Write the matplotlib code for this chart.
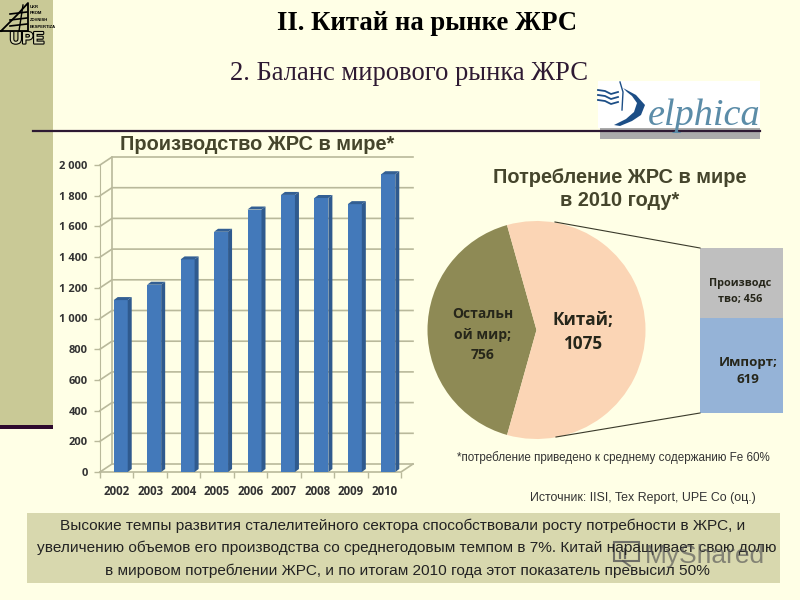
import matplotlib
matplotlib.use('Agg')
import matplotlib.pyplot as plt
import matplotlib.patheffects as pe
from matplotlib.patches import Rectangle, Polygon

# data
years = ['2002', '2003', '2004', '2005', '2006', '2007', '2008', '2009', '2010']
production = [1120, 1220, 1385, 1565, 1710, 1805, 1785, 1745, 1940]
y_ticks = [0, 200, 400, 600, 800, 1000, 1200, 1400, 1600, 1800, 2000]
y_tick_labels = ['0', '200', '400', '600', '800', '1 000', '1 200', '1 400', '1 600', '1 800', '2 000']
pie_values = [756, 1075]
split_values = [619, 456]

SANS = 'Liberation Sans'
SERIF = 'Liberation Serif'
LABEL = 'Open Sans'
BG = '#FFFFE6'

fig = plt.figure(figsize=(8, 6), dpi=100, facecolor=BG)


def px_axes(left, top, right, bottom):
    return fig.add_axes([left / 800, 1 - bottom / 600, (right - left) / 800, (bottom - top) / 600])


def layer():
    a = fig.add_axes([0, 0, 1, 1])
    a.set_xlim(0, 800)
    a.set_ylim(600, 0)
    a.axis('off')
    return a


# slide layer in pixel coordinates
bg = layer()
bg.add_patch(Rectangle((0, 0), 53, 425, color='#C9C996', lw=0))
bg.add_patch(Rectangle((0, 425), 53, 4, color='#2E0A2E', lw=0))
bg.add_patch(Rectangle((598, 81), 162, 47, color='white', lw=0))
bg.add_patch(Rectangle((600, 128), 160, 11, color='#ABABAB', lw=0))
bg.plot([33, 760], [131, 131], color='#2E1A33', lw=1.6)
bg.add_patch(Rectangle((27, 513), 753, 70, color='#D8D8AE', lw=0))

# UPE logo
bg.plot([1, 17, 28, 28, 1], [31, 15, 3, 31, 31], color='black', lw=1.3)
for yy in [14, 20, 26]:
    bg.plot([10, 27], [yy, yy - 2], color='black', lw=1.2)
bg.plot([19, 23], [31, 5], color='black', lw=1)
for yy, t in zip([7, 13, 20, 27], ['UKR', 'PROM', 'ZOVNISH', 'EKSPERTIZA']):
    bg.text(30, yy, t, fontsize=3, family=SANS, weight='bold', va='center')
bg.text(27, 39, 'UPE', fontsize=12, family=SANS, weight='bold', ha='center', va='center', color='#D8D8B0',
        path_effects=[pe.withStroke(linewidth=1.6, foreground='black')])

# Delphica logo
bg.add_patch(Polygon([[623, 88], [636, 95], [645, 105], [641, 115], [632, 121], [620, 126], [614, 125], [626, 119],
                      [634, 112], [637, 103], [632, 96], [627, 92]], color='#1C4E86', lw=0))
bg.plot([620, 623, 622], [82, 92, 110], color='#1C4E86', lw=1)
for yy in [92, 97, 102]:
    bg.plot([598, 605, 611, 618], [yy - 2, yy - 1, yy + 2, yy], color='#1C4E86', lw=1.3)
bg.text(648, 125, 'elphica', fontsize=27.5, family=SERIF, style='italic', color='#5B8CA8', va='baseline')

# titles
bg.text(427, 24, 'II. Китай на рынке ЖРС', fontsize=19.2, family=SERIF, weight='bold', ha='center', va='center')
bg.text(409, 74, '2. Баланс мирового рынка ЖРС', fontsize=19.2, family=SERIF, color='#2E1A33', ha='center', va='center')
bg.text(257, 144, 'Производство ЖРС в мире*', fontsize=14.4, family=SANS, weight='bold', color='#45452C',
        ha='center', va='center')
bg.text(620, 189, 'Потребление ЖРС в мире\nв 2010 году*', fontsize=14.4, family=SANS, weight='bold',
        color='#45452C', ha='center', va='center', linespacing=1.25)

# bar chart, front plane of the fake 3d box
ax = px_axes(100, 165, 401, 472)
n = len(years)
ax.set_xlim(-0.5, n - 0.5)
ax.set_ylim(0, 2000)
ax.patch.set_alpha(0)
for s in ['top', 'right', 'bottom']:
    ax.spines[s].set_visible(False)
GRID = '#B9B99B'
ax.spines['left'].set_color(GRID)
ux = n / 301  # data units per pixel
uy = 2000 / 307
depth_x, depth_y = 12 * ux, 8 * uy
for v in y_ticks:
    ax.plot([-0.5, -0.5 + depth_x, n - 0.5 + depth_x], [v, v + depth_y, v + depth_y],
            color=GRID, lw=1.2, clip_on=False, zorder=1)
ax.plot([-0.5 + depth_x] * 2, [depth_y, 2000 + depth_y], color=GRID, lw=1.2, clip_on=False, zorder=1)
ax.plot([-0.5, n - 0.5, n - 0.5 + depth_x], [0, 0, depth_y], color=GRID, lw=1.2, clip_on=False, zorder=1)

w = 14 * ux
shift = 4 * ux
sx, sy = 4 * ux, 3 * uy
xs = [i + shift for i in range(n)]
ax.bar(xs, production, width=w, color='#4379BA', zorder=3)
for x, v in zip(xs, production):
    r = x + w / 2
    l = x - w / 2
    ax.fill([r, r + sx, r + sx, r], [0, sy, v + sy, v], color='#2F5A8E', lw=0, zorder=3, clip_on=False)
    ax.fill([l, l + sx, r + sx, r], [v, v + sy, v + sy, v], color='#335F93', lw=0, zorder=3, clip_on=False)
ax.set_yticks(y_ticks, y_tick_labels, family=LABEL, weight='bold', fontsize=8, color='#333333')
ax.set_xticks([i - 0.5 for i in range(n + 1)])
ax.set_xticklabels([])
ax.tick_params(axis='both', color=GRID, length=4, width=1)
ax.tick_params(axis='y', pad=5)
for i, yr in enumerate(years):
    ax.text(i, -125, yr, family=LABEL, weight='bold', fontsize=8.3, color='#333333', ha='center', va='center')

# pie
pie_ax = px_axes(427, 221, 646, 439)
pie_ax.pie(pie_values, colors=['#8E8A55', '#FBD5B5'], startangle=105.7, radius=1, frame=False)
pie_ax.set_xlim(-1, 1)
pie_ax.set_ylim(-1, 1)

# split bar for China
split_ax = px_axes(700, 248, 783, 413)
split_ax.bar([0], [split_values[0]], width=1, color='#95B3D7')
split_ax.bar([0], [split_values[1]], width=1, bottom=split_values[0], color='#BFBFBF')
split_ax.set_xlim(-0.5, 0.5)
split_ax.set_ylim(0, sum(split_values))
split_ax.axis('off')

# everything that sits on top of the charts
fg = layer()
fg.plot([555, 700], [222, 248], color='#3A3A2A', lw=0.8)
fg.plot([556, 700], [437, 413], color='#3A3A2A', lw=0.8)

fg.text(483, 334.5, 'Остальн\nой мир;\n756', family=LABEL, weight='bold', fontsize=10, color='#26261A',
        ha='center', va='center', linespacing=1.55)
fg.text(583, 332, 'Китай;\n1075', family=LABEL, weight='bold', fontsize=12.3, color='#26261A',
        ha='center', va='center', linespacing=1.45)
fg.text(740, 291.5, 'Производс\nтво; 456', family=LABEL, weight='bold', fontsize=7.8, color='#26261A',
        ha='center', va='center', linespacing=1.6)
fg.text(748, 371, 'Импорт;\n619', family=LABEL, weight='bold', fontsize=9.6, color='#26261A',
        ha='center', va='center', linespacing=1.35)

# notes
fg.text(613, 458, '*потребление приведено к среднему содержанию Fe 60%', family=SANS, fontsize=8.4,
        color='#333333', ha='center', va='center')
fg.text(643, 498, 'Источник: IISI, Tex Report, UPE Co (оц.)', family=SANS, fontsize=8.9,
        color='#333333', ha='center', va='center')

# bottom text and watermark
fg.text(403, 526, 'Высокие темпы развития сталелитейного сектора способствовали росту потребности в ЖРС, и',
        family=SANS, fontsize=11.1, color='#222222', ha='center', va='center')
fg.text(407, 548, 'увеличению объемов его производства со среднегодовым темпом в 7%. Китай наращивает свою долю',
        family=SANS, fontsize=11.1, color='#222222', ha='center', va='center')
fg.text(407, 571, 'в мировом потреблении ЖРС, и по итогам 2010 года этот показатель превысил 50%',
        family=SANS, fontsize=11.1, color='#222222', ha='center', va='center')
fg.add_patch(Rectangle((614, 542), 25, 19, fill=False, ec='#555555', lw=1.5, alpha=0.8))
fg.plot([620, 620], [553, 558], color='#555555', lw=1.6, alpha=0.8)
fg.plot([625, 625], [549, 558], color='#555555', lw=1.6, alpha=0.8)
fg.plot([623, 630], [561, 566], color='#555555', lw=1.4, alpha=0.8)
fg.text(645, 556, 'MyShared', family=SANS, fontsize=19, color='#555555', alpha=0.65, va='center')

fig.savefig('out.png', dpi=100, facecolor=BG)
